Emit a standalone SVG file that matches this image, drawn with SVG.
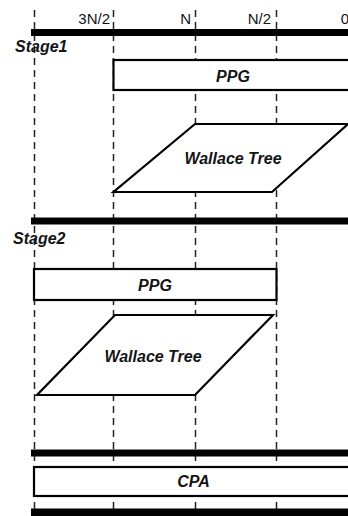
<svg xmlns="http://www.w3.org/2000/svg" width="348" height="516" viewBox="0 0 348 516">
<style>
.grid{stroke:#222;stroke-width:1.5;stroke-dasharray:7 5;fill:none}
.bar{fill:#000}
.box{fill:#fff;stroke:#000;stroke-width:2.2}
.lbl{font-family:"Liberation Sans",Arial,sans-serif;font-weight:bold;font-style:italic;font-size:16px;fill:#141414;text-anchor:middle}
.axis{font-family:"Liberation Sans",Arial,sans-serif;font-size:15px;fill:#141414;text-anchor:end}
.stage{font-family:"Liberation Sans",Arial,sans-serif;font-weight:bold;font-style:italic;font-size:16px;fill:#141414}
</style>
<rect width="348" height="516" fill="#fff"/>
<g id="gridlines">
<line class="grid" x1="34.5" y1="10" x2="34.5" y2="516"/>
<line class="grid" x1="113.5" y1="10" x2="113.5" y2="516"/>
<line class="grid" x1="195.5" y1="10" x2="195.5" y2="516"/>
<line class="grid" x1="276.5" y1="10" x2="276.5" y2="516"/>
</g>
<g id="axis-labels">
<text class="axis" x="110" y="24">3N/2</text>
<text class="axis" x="191" y="24">N</text>
<text class="axis" x="271" y="24">N/2</text>
<text class="axis" x="349" y="24">0</text>
</g>
<g id="bars">
<rect class="bar" x="31" y="29" width="317" height="7"/>
<rect class="bar" x="31" y="217.5" width="317" height="7"/>
<rect class="bar" x="31" y="449.5" width="317" height="7"/>
<rect class="bar" x="31" y="508.5" width="317" height="8"/>
</g>
<g id="stage1-label"><text class="stage" x="15" y="52">Stage1</text></g>
<g id="stage1-ppg">
<rect class="box" x="113.5" y="60" width="240" height="30"/>
<text class="lbl" x="233" y="82">PPG</text>
</g>
<g id="stage1-wallace">
<polygon class="box" points="195,124 348,124 272,192 113.5,192"/>
<text class="lbl" x="233" y="164">Wallace Tree</text>
</g>
<g id="stage2-label"><text class="stage" x="13" y="244">Stage2</text></g>
<g id="stage2-ppg">
<rect class="box" x="34" y="269" width="242.5" height="31"/>
<text class="lbl" x="155" y="291">PPG</text>
</g>
<g id="stage2-wallace">
<polygon class="box" points="115,315 273,315 195,395 37,395"/>
<text class="lbl" x="153" y="362">Wallace Tree</text>
</g>
<g id="cpa">
<rect class="box" x="34" y="467" width="320" height="29"/>
<text class="lbl" x="193.5" y="487">CPA</text>
</g>
</svg>
